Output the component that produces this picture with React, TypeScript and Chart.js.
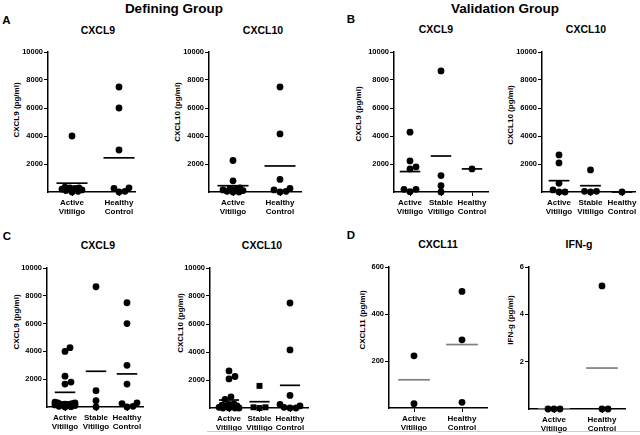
import React, { useEffect, useRef } from "react";
import { Chart, registerables } from "chart.js";

Chart.register(...registerables);

const FONT = '"Liberation Sans", Arial, Helvetica, sans-serif';

// ---------- Data ----------
// A: Defining group
const defCategories = [["Active", "Vitiligo"], ["Healthy", "Control"]];
const defActiveCXCL9 = [4000, 350, 300, 300, 250, 200, 150, 100, 50, 0];
const defHealthyCXCL9 = [7500, 6000, 3000, 250, 0, 50, 300];
const defMeansCXCL9 = [630, 2440];
const defActiveCXCL10 = [2250, 800, 300, 250, 200, 150, 100, 50, 0, 0];
const defHealthyCXCL10 = [7500, 4150, 900, 150, 0, 50, 250];
const defMeansCXCL10 = [450, 1860];

// B: Validation group
const valCategories = [["Active", "Vitiligo"], ["Stable", "Vitiligo"], ["Healthy", "Control"]];
const valActiveCXCL9 = [4270, 2220, 1790, 1650, 190, 20, 190];
const valStableCXCL9 = [8650, 1170, 450, 0];
const valHealthyCXCL9 = [1650];
const valMeansCXCL9 = [1460, 2570, 1650];
const valActiveCXCL10 = [2650, 2080, 620, 150, 0, 0];
const valStableCXCL10 = [1580, 50, 0, 50];
const valHealthyCXCL10 = [0];
const valMeansCXCL10 = [810, 450, 0];

// C: both groups combined
const allActiveCXCL9 = [...defActiveCXCL9, ...valActiveCXCL9];
const allStableCXCL9 = [...valStableCXCL9];
const allHealthyCXCL9 = [...defHealthyCXCL9, ...valHealthyCXCL9];
const allMeansCXCL9 = [1055, 2570, 2380];
const allActiveCXCL10 = [...defActiveCXCL10, ...valActiveCXCL10];
const allStableCXCL10 = [...valStableCXCL10];
const allHealthyCXCL10 = [...defHealthyCXCL10, ...valHealthyCXCL10];
const allMeansCXCL10 = [570, 450, 1620];

// D: CXCL11 and IFN-g
const dCategories = [["Active", "Vitiligo"], ["Healthy", "Control"]];
const cxcl11Active = [222, 18];
const cxcl11Healthy = [496, 290, 24];
const cxcl11Means = [120, 270];
const ifngActive = [0, 0, 0];
const ifngHealthy = [5.2, 0, 0];
const ifngMeans = [0, 1.73];

// Tick labels
const chemokineTicks = [0, 2000, 4000, 6000, 8000, 10000];
const cxcl11Ticks = [0, 200, 400, 600];
const ifngTicks = [0, 2, 4, 6];

// ---------- Layout ----------
type PanelSpec = {
  ax: number; ax2: number; top: number; bottom: number; c1: number; sp: number;
  cats: string[][]; groups: number[][]; means: number[]; ticks: number[];
  meanColor: string; squareGroups?: number[];
  title: string; tx: number; ty: number;
  yTitle: string; yx: number; yy: number;
};

const panels: PanelSpec[] = [
  { ax: 48, ax2: 135, top: 52, bottom: 192, c1: 72, sp: 47, cats: defCategories,
    groups: [defActiveCXCL9, defHealthyCXCL9], means: defMeansCXCL9, ticks: chemokineTicks,
    meanColor: "#000", title: "CXCL9", tx: 98, ty: 30, yTitle: "CXCL9 (pg/ml)", yx: 17, yy: 110 },
  { ax: 209, ax2: 301, top: 52, bottom: 192, c1: 233, sp: 47, cats: defCategories,
    groups: [defActiveCXCL10, defHealthyCXCL10], means: defMeansCXCL10, ticks: chemokineTicks,
    meanColor: "#000", title: "CXCL10", tx: 263, ty: 30, yTitle: "CXCL10 (pg/ml)", yx: 178, yy: 112 },
  { ax: 394, ax2: 488, top: 52, bottom: 192, c1: 410, sp: 31, cats: valCategories,
    groups: [valActiveCXCL9, valStableCXCL9, valHealthyCXCL9], means: valMeansCXCL9, ticks: chemokineTicks,
    meanColor: "#000", title: "CXCL9", tx: 436, ty: 29, yTitle: "CXCL9 (pg/ml)", yx: 359, yy: 114 },
  { ax: 542, ax2: 635, top: 52, bottom: 192, c1: 559, sp: 31.5, cats: valCategories,
    groups: [valActiveCXCL10, valStableCXCL10, valHealthyCXCL10], means: valMeansCXCL10, ticks: chemokineTicks,
    meanColor: "#000", title: "CXCL10", tx: 586, ty: 29, yTitle: "CXCL10 (pg/ml)", yx: 511, yy: 115 },
  { ax: 47, ax2: 143, top: 268, bottom: 407, c1: 65, sp: 31, cats: valCategories,
    groups: [allActiveCXCL9, allStableCXCL9, allHealthyCXCL9], means: allMeansCXCL9, ticks: chemokineTicks,
    meanColor: "#000", title: "CXCL9", tx: 98, ty: 245, yTitle: "CXCL9 (pg/ml)", yx: 17, yy: 322 },
  { ax: 210, ax2: 308, top: 268, bottom: 408, c1: 229, sp: 30.5, cats: valCategories,
    groups: [allActiveCXCL10, allStableCXCL10, allHealthyCXCL10], means: allMeansCXCL10, ticks: chemokineTicks,
    meanColor: "#000", squareGroups: [1], title: "CXCL10", tx: 262, ty: 245, yTitle: "CXCL10 (pg/ml)", yx: 181, yy: 323 },
  { ax: 389, ax2: 487, top: 267, bottom: 408, c1: 414, sp: 48, cats: dCategories,
    groups: [cxcl11Active, cxcl11Healthy], means: cxcl11Means, ticks: cxcl11Ticks,
    meanColor: "#7f7f7f", title: "CXCL11", tx: 438, ty: 244, yTitle: "CXCL11 (pg/ml)", yx: 363, yy: 320 },
  { ax: 529, ax2: 625, top: 267, bottom: 409, c1: 554, sp: 48, cats: dCategories,
    groups: [ifngActive, ifngHealthy], means: ifngMeans, ticks: ifngTicks,
    meanColor: "#7f7f7f", title: "IFN-g", tx: 579, ty: 244, yTitle: "IFN-g (pg/ml)", yx: 511, yy: 320 },
];

const Y_W = 44;
const PAD_T = 8;
const PAD_R = 6;
const X_H = 30;

// beeswarm-like horizontal spread (pixel offsets) so overlapping dots stay visible
function swarm(values: number[], pxPerY: number, coll: number, maxOff: number): number[] {
  const order = values.map((_, i) => i).sort((a, b) => values[a] - values[b]);
  const cands: number[] = [0];
  for (let d = 1; d <= maxOff; d++) cands.push(d, -d);
  const placed: { x: number; y: number }[] = [];
  const out: number[] = new Array(values.length).fill(0);
  for (const i of order) {
    const y = values[i] * pxPerY;
    let chosen: number | null = null;
    let best = 0;
    let bestScore = -1;
    for (const c of cands) {
      let m = Infinity;
      for (const p of placed) m = Math.min(m, Math.hypot(p.x - c, p.y - y));
      if (m >= coll) { chosen = c; break; }
      if (m > bestScore) { bestScore = m; best = c; }
    }
    const x = chosen === null ? best : chosen;
    placed.push({ x, y });
    out[i] = x;
  }
  return out;
}

function PanelChart({ p }: { p: PanelSpec }) {
  const ref = useRef<HTMLCanvasElement>(null);
  const w = p.ax2 - p.ax + Y_W + PAD_R;
  const h = p.bottom - p.top + PAD_T + X_H;
  const left = p.ax - Y_W;
  const top = p.top - PAD_T;

  useEffect(() => {
    if (!ref.current) return;
    const ymax = p.ticks[p.ticks.length - 1];
    const n = p.cats.length;
    const cn = p.c1 + (n - 1) * p.sp;
    const xmin = 1 - (p.c1 - p.ax) / p.sp;
    const xmax = n + (p.ax2 - cn) / p.sp;
    const pxPerY = (p.bottom - p.top) / ymax;

    const datasets: any[] = [];
    p.groups.forEach((vals, gi) => {
      const offs = swarm(vals, pxPerY, 6, 10);
      const square = (p.squareGroups || []).includes(gi);
      datasets.push({
        type: "scatter",
        data: vals.map((v, i) => ({ x: gi + 1 + offs[i] / p.sp, y: v })),
        pointStyle: square ? "rect" : "circle",
        pointRadius: square ? 4.2 : 3.4,
        backgroundColor: "#000",
        borderColor: "#000",
        borderWidth: 0,
        clip: false,
      });
    });
    p.means.forEach((m, gi) => {
      datasets.push({
        type: "line",
        data: [{ x: gi + 1 - 0.33, y: m }, { x: gi + 1 + 0.33, y: m }],
        borderColor: p.meanColor,
        borderWidth: 1.7,
        pointRadius: 0,
        showLine: true,
        clip: false,
      });
    });

    const chart = new Chart(ref.current, {
      type: "scatter",
      data: { datasets },
      options: {
        animation: false,
        responsive: false,
        events: [],
        layout: { padding: { top: PAD_T, right: PAD_R, left: 0, bottom: 0 } },
        plugins: { legend: { display: false }, tooltip: { enabled: false }, title: { display: false } },
        scales: {
          x: {
            type: "linear",
            min: xmin,
            max: xmax,
            z: 1,
            afterBuildTicks: (s: any) => { s.ticks = p.cats.map((_, i) => ({ value: i + 1 })); },
            afterFit: (s: any) => { s.height = X_H; },
            ticks: {
              autoSkip: false,
              maxRotation: 0,
              minRotation: 0,
              padding: 2,
              color: "#000",
              font: { family: FONT, size: 8, weight: "bold", lineHeight: 1.12 },
              callback: (_v: any, i: number) => p.cats[i],
            },
            grid: { display: true, drawOnChartArea: false, drawTicks: true, tickLength: 4, color: "#000", lineWidth: 1 },
            border: { display: true, color: "#000", width: 1.5 },
          },
          y: {
            type: "linear",
            min: 0,
            max: ymax,
            afterBuildTicks: (s: any) => { s.ticks = p.ticks.map((v) => ({ value: v })); },
            afterFit: (s: any) => { s.width = Y_W; },
            ticks: {
              padding: 1,
              color: "#000",
              font: { family: FONT, size: 7.5, weight: "bold" },
              callback: (v: any) => (v === 0 ? "" : String(v)),
            },
            grid: {
              display: true,
              drawOnChartArea: false,
              drawTicks: true,
              tickLength: 4,
              lineWidth: 1,
              color: (ctx: any) => (ctx.tick && ctx.tick.value === 0 ? "rgba(0,0,0,0)" : "#000"),
            },
            border: { display: true, color: "#000", width: 1.5 },
          },
        },
      } as any,
    });
    return () => chart.destroy();
  }, []);

  return (
    <canvas
      ref={ref}
      width={w}
      height={h}
      style={{ position: "absolute", left, top, width: w, height: h }}
    />
  );
}

const textBase: React.CSSProperties = {
  position: "absolute",
  fontFamily: FONT,
  fontWeight: "bold",
  color: "#000",
  whiteSpace: "nowrap",
  lineHeight: 1,
};

function Label({ t, x, y, size, rotate }: { t: string; x: number; y: number; size: number; rotate?: boolean }) {
  return (
    <div
      style={{
        ...textBase,
        left: x,
        top: y,
        fontSize: size,
        transform: `translate(-50%, -50%)${rotate ? " rotate(-90deg)" : ""}`,
      }}
    >
      {t}
    </div>
  );
}

const headings = [
  { t: "Defining Group", x: 174, y: 9 },
  { t: "Validation Group", x: 505, y: 9 },
];
const letters = [
  { t: "A", x: 6.5, y: 21 },
  { t: "B", x: 351, y: 20 },
  { t: "C", x: 7, y: 237 },
  { t: "D", x: 351, y: 236 },
];

export default function App() {
  return (
    <div style={{ position: "absolute", left: 0, top: 0, width: 640, height: 435, background: "#fff", overflow: "hidden" }}>
      {headings.map((h) => <Label key={h.t} t={h.t} x={h.x} y={h.y} size={13.5} />)}
      {letters.map((l) => <Label key={l.t} t={l.t} x={l.x} y={l.y} size={11.5} />)}
      {panels.map((p, i) => (
        <React.Fragment key={i}>
          <Label t={p.title} x={p.tx} y={p.ty} size={10.5} />
          <Label t={p.yTitle} x={p.yx} y={p.yy} size={8} rotate />
          <PanelChart p={p} />
        </React.Fragment>
      ))}
      <div style={{ position: "absolute", left: 207, top: 431, width: 433, height: 1, background: "#cccccc" }} />
    </div>
  );
}
